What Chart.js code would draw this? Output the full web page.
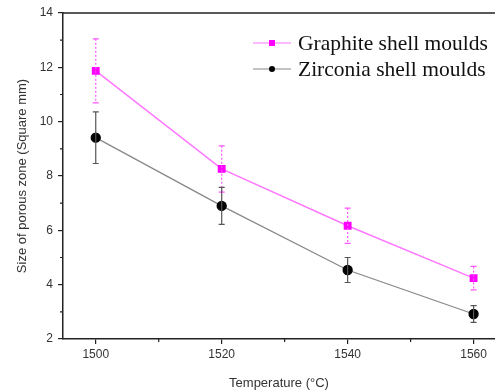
<!DOCTYPE html>
<html>
<head>
<meta charset="utf-8">
<script src="https://cdn.jsdelivr.net/npm/chart.js@4.4.0/dist/chart.umd.min.js"></script>
<style>
  html, body { margin: 0; padding: 0; background: #fff; }
  #wrap { width: 495px; height: 391px; }
</style>
</head>
<body>
<div id="wrap"><canvas id="chart"></canvas></div>
<script>
// Data
const temperatures = [1500, 1520, 1540, 1560];
const graphiteValues = [11.87, 8.26, 6.17, 4.24];
const graphiteErrors = [1.18, 0.85, 0.65, 0.43];
const zirconiaValues = [9.41, 6.90, 4.54, 2.92];
const zirconiaErrors = [0.95, 0.68, 0.46, 0.31];
const xTicks = [1500, 1520, 1540, 1560];
const xMinorTicks = [1510, 1530, 1550];
const yTicks = [2, 4, 6, 8, 10, 12, 14];
const yMinorTicks = [3, 5, 7, 9, 11, 13];

const seriesLabels = ['Graphite shell moulds', 'Zirconia shell moulds'];

function toPoints(xs, ys) {
    return xs.map((x, i) => ({ x: x, y: ys[i] }));
}

// Error bars, minor ticks, top frame and legend
const extrasPlugin = {
    id: 'extras',
    afterDatasetsDraw(chart) {
        const c = chart.ctx;
        const xs = chart.scales.x;
        const ys = chart.scales.y;
        const bars = [
            { vals: graphiteValues, errs: graphiteErrors, color: '#ff55ff', dash: [2, 2] },
            { vals: zirconiaValues, errs: zirconiaErrors, color: '#555555', dash: [] }
        ];
        c.save();
        bars.forEach(b => {
            c.strokeStyle = b.color;
            c.lineWidth = 1.2;
            temperatures.forEach((t, i) => {
                const px = xs.getPixelForValue(t);
                const top = ys.getPixelForValue(b.vals[i] + b.errs[i]);
                const bot = ys.getPixelForValue(b.vals[i] - b.errs[i]);
                c.setLineDash(b.dash);
                c.beginPath();
                c.moveTo(px, top);
                c.lineTo(px, bot);
                c.stroke();
                c.setLineDash([]);
                c.beginPath();
                c.moveTo(px - 3, top); c.lineTo(px + 3, top);
                c.moveTo(px - 3, bot); c.lineTo(px + 3, bot);
                c.stroke();
            });
        });
        c.restore();
    },
    afterDraw(chart) {
        const c = chart.ctx;
        const area = chart.chartArea;
        const xs = chart.scales.x;
        const ys = chart.scales.y;
        c.save();
        // top frame line
        c.strokeStyle = '#222';
        c.lineWidth = 1.5;
        c.beginPath();
        c.moveTo(area.left, area.top);
        c.lineTo(area.right, area.top);
        c.stroke();
        // minor ticks
        c.lineWidth = 1.2;
        c.beginPath();
        yMinorTicks.forEach(v => {
            const py = ys.getPixelForValue(v);
            c.moveTo(area.left, py);
            c.lineTo(area.left - 3, py);
        });
        xMinorTicks.forEach(v => {
            const px = xs.getPixelForValue(v);
            c.moveTo(px, area.bottom);
            c.lineTo(px, area.bottom + 3);
        });
        c.stroke();

        // legend
        const items = [
            { y: 43, line: '#ff77ff', mark: '#ff00ff', square: true },
            { y: 69, line: '#888888', mark: '#000000', square: false }
        ];
        items.forEach((it, i) => {
            c.strokeStyle = it.line;
            c.lineWidth = 1.2;
            c.beginPath();
            c.moveTo(253, it.y);
            c.lineTo(291, it.y);
            c.stroke();
            c.fillStyle = it.mark;
            if (it.square) {
                c.fillRect(269, it.y - 3, 6, 6);
            } else {
                c.beginPath();
                c.arc(272, it.y, 3, 0, Math.PI * 2);
                c.fill();
            }
            c.fillStyle = '#111';
            c.font = '21.5px "Liberation Serif", "DejaVu Serif", serif';
            c.textBaseline = 'middle';
            c.textAlign = 'left';
            c.fillText(seriesLabels[i], 298, it.y + 1);
        });
        c.restore();
    }
};

const ctx = document.getElementById('chart').getContext('2d');
const tickFont = { family: '"Liberation Sans", Arial, sans-serif', size: 12 };
const titleFont = { family: '"Liberation Sans", Arial, sans-serif', size: 13 };

new Chart(ctx, {
    type: 'line',
    data: {
        datasets: [{
            label: seriesLabels[0],
            data: toPoints(temperatures, graphiteValues),
            borderColor: '#ff77ff',
            borderWidth: 1.5,
            pointStyle: 'rect',
            pointRadius: 4.5,
            pointBackgroundColor: '#ff00ff',
            pointBorderColor: '#ff00ff',
            fill: false,
            tension: 0
        }, {
            label: seriesLabels[1],
            data: toPoints(temperatures, zirconiaValues),
            borderColor: '#888888',
            borderWidth: 1.3,
            pointStyle: 'circle',
            pointRadius: 4.5,
            pointBackgroundColor: '#000000',
            pointBorderColor: '#000000',
            fill: false,
            tension: 0
        }]
    },
    options: {
        responsive: true,
        maintainAspectRatio: false,
        animation: false,
        layout: { autoPadding: false, padding: { top: 13, right: 0, left: 0, bottom: 0 } },
        scales: {
            x: {
                type: 'linear',
                min: 1494.8,
                max: 1563.4,
                afterBuildTicks: axis => { axis.ticks = xTicks.map(v => ({ value: v })); },
                afterFit: axis => { axis.height = 52; axis.paddingRight = 0; axis.paddingLeft = 0; },
                grid: { drawOnChartArea: false, drawTicks: true, tickLength: 5, color: '#222', lineWidth: 1.2 },
                border: { color: '#222', width: 1.5 },
                ticks: { color: '#333', font: tickFont, padding: 3, maxRotation: 0, callback: v => String(v) },
                title: { display: true, text: 'Temperature (°C)', color: '#333', font: titleFont, padding: { top: 4, bottom: 0 } }
            },
            y: {
                min: 2,
                max: 14,
                afterBuildTicks: axis => { axis.ticks = yTicks.map(v => ({ value: v })); },
                afterFit: axis => { axis.width = 63; },
                grid: { drawOnChartArea: false, drawTicks: true, tickLength: 5, color: '#222', lineWidth: 1.2 },
                border: { color: '#222', width: 1.5 },
                ticks: { color: '#333', font: tickFont, padding: 5, callback: v => String(v) },
                title: { display: true, text: 'Size of porous zone (Square mm)', color: '#333', font: titleFont, padding: { top: 15, bottom: 0 } }
            }
        },
        plugins: {
            legend: { display: false },
            tooltip: { enabled: false }
        }
    },
    plugins: [extrasPlugin]
});
</script>
</body>
</html>
